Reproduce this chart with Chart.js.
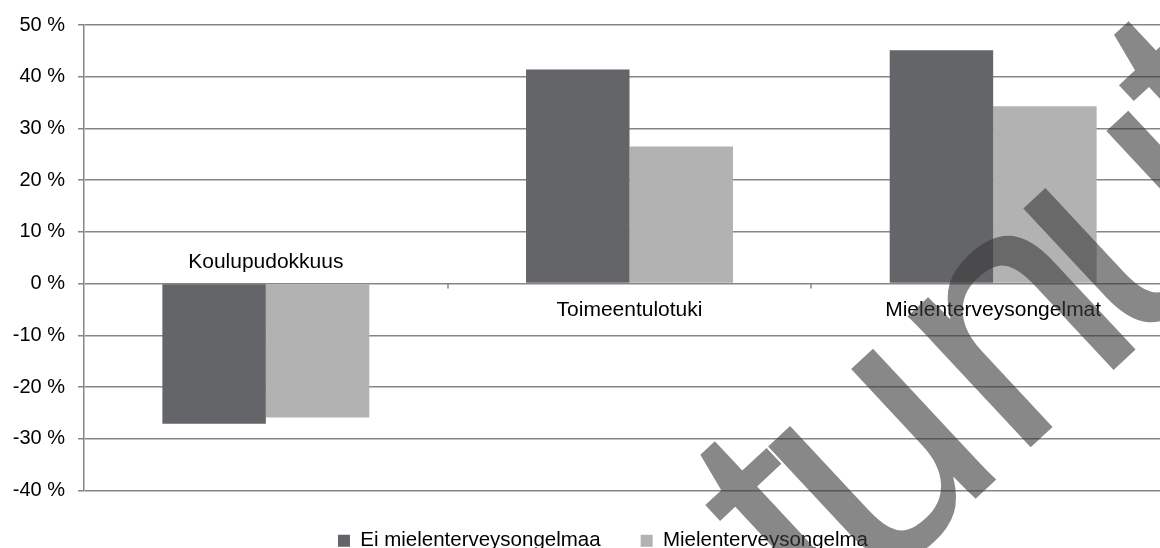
<!DOCTYPE html>
<html>
<head>
<meta charset="utf-8">
<script src="https://cdn.jsdelivr.net/npm/chart.js@4.4.1/dist/chart.umd.min.js"></script>
<style>
html, body { margin: 0; padding: 0; overflow: hidden; background: #fff; }
canvas { display: block; }
</style>
</head>
<body>
<canvas id="chart" width="1206" height="561"></canvas>
<script>
// Chart data
const categories = ['Koulupudokkuus', 'Toimeentulotuki', 'Mielenterveysongelmat'];
const seriesNames = ['Ei mielenterveysongelmaa', 'Mielenterveysongelma'];
const eiOngelmaa = [-27.1, 41.4, 45.1];
const ongelma = [-25.9, 26.5, 34.3];
const yTicks = [-40, -30, -20, -10, 0, 10, 20, 30, 40, 50];

const FONT = '"Liberation Sans", Arial, sans-serif';
const GRID = '#868686';

// category names sit on the zero line (above it when the bars go down)
const categoryLabels = {
    id: 'categoryLabels',
    afterLayout(chart) {
        // let the y tick labels use the left padding too
        chart.scales.y.left = 0;
    },
    afterDatasetsDraw(chart) {
        const { ctx, scales: { x, y } } = chart;
        const zero = y.getPixelForValue(0);
        ctx.save();
        ctx.strokeStyle = GRID;
        ctx.lineWidth = 1.5;
        for (let i = 1; i < categories.length; i++) {
            const px = Math.round((x.getPixelForValue(i - 1) + x.getPixelForValue(i)) / 2);
            ctx.beginPath();
            ctx.moveTo(px, zero);
            ctx.lineTo(px, zero + 5);
            ctx.stroke();
        }
        ctx.font = '21px ' + FONT;
        ctx.fillStyle = '#000';
        ctx.textAlign = 'center';
        ctx.textBaseline = 'alphabetic';
        categories.forEach((c, i) => {
            const allUp = Math.min(eiOngelmaa[i], ongelma[i]) >= 0;
            ctx.fillText(c, x.getPixelForValue(i), allUp ? zero + 32 : zero - 16);
        });
        ctx.restore();
    }
};

// the big diagonal watermark over everything, glyph by glyph
const watermark = {
    id: 'watermark',
    afterDraw(chart) {
        const ctx = chart.ctx;
        const glyphs = [['t', 0, 0], ['u', 69, 0], ['n', 259, 0], ['u', 418, 0], ['t', 589, -25]];
        ctx.save();
        ctx.translate(824, 640);
        ctx.rotate(-43 * Math.PI / 180);
        ctx.font = '340px ' + FONT;
        ctx.fillStyle = 'rgba(57,57,57,0.6)';
        ctx.textBaseline = 'alphabetic';
        glyphs.forEach(([ch, dx, dy]) => ctx.fillText(ch, dx, dy));
        ctx.restore();
    }
};

new Chart(document.getElementById('chart').getContext('2d'), {
    type: 'bar',
    data: {
        labels: categories,
        datasets: [
            { label: seriesNames[0], data: eiOngelmaa, backgroundColor: '#646569' },
            { label: seriesNames[1], data: ongelma, backgroundColor: '#b2b2b2' }
        ]
    },
    options: {
        responsive: false,
        animation: false,
        devicePixelRatio: 1,
        layout: { padding: { left: 31, right: 31, top: 24, bottom: 0 } },
        datasets: {
            bar: { barPercentage: 1, categoryPercentage: 0.569, borderWidth: 0 }
        },
        plugins: {
            tooltip: { enabled: false },
            legend: {
                position: 'bottom',
                labels: {
                    boxWidth: 12,
                    boxHeight: 12,
                    padding: 40,
                    color: '#000',
                    font: { family: FONT, size: 20.5 }
                }
            }
        },
        scales: {
            x: { display: false },
            y: {
                min: yTicks[0],
                max: yTicks[yTicks.length - 1],
                afterFit(scale) { scale.width = 53; },
                ticks: {
                    stepSize: yTicks[1] - yTicks[0],
                    padding: 13,
                    color: '#000',
                    font: { family: FONT, size: 20 },
                    callback: value => value + ' %'
                },
                grid: { color: GRID, lineWidth: 1.5, tickLength: 6 },
                border: { color: GRID, width: 1.5 }
            }
        }
    },
    plugins: [categoryLabels, watermark]
});
</script>
</body>
</html>
